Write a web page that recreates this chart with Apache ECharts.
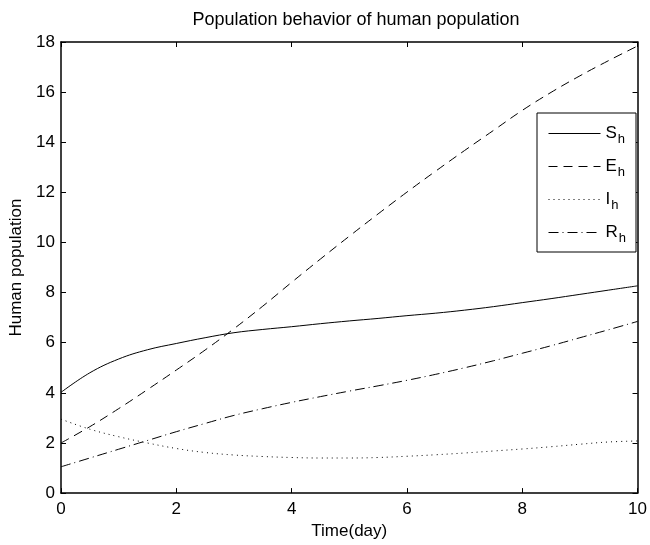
<!DOCTYPE html>
<html>
<head>
<meta charset="utf-8">
<script src="https://cdn.jsdelivr.net/npm/echarts@6/dist/echarts.min.js"></script>
<style>
  html, body { margin: 0; padding: 0; background: #fff; }
  #main { width: 650px; height: 545px; }
</style>
</head>
<body>
<div id="main"></div>
<script>
// time in days
const days = [0, 0.5, 1, 1.5, 2, 2.5, 3, 3.5, 4, 4.5, 5, 5.5, 6, 6.5, 7, 7.5, 8, 8.5, 9, 9.5, 10]
// susceptible, exposed, infected, recovered humans
const Sh = [4.02, 4.8, 5.35, 5.72, 5.97, 6.2, 6.4, 6.53, 6.64, 6.76, 6.87, 6.97, 7.08, 7.18, 7.3, 7.44, 7.6, 7.76, 7.93, 8.1, 8.27]
const Eh = [2.0, 2.65, 3.37, 4.13, 4.91, 5.71, 6.56, 7.46, 8.41, 9.34, 10.25, 11.14, 12.01, 12.85, 13.67, 14.47, 15.27, 15.99, 16.65, 17.26, 17.84]
const Ih = [2.95, 2.55, 2.25, 2.0, 1.78, 1.62, 1.52, 1.46, 1.42, 1.4, 1.4, 1.42, 1.47, 1.53, 1.6, 1.68, 1.76, 1.85, 1.95, 2.04, 2.08]
const Rh = [1.05, 1.4, 1.75, 2.1, 2.45, 2.78, 3.1, 3.37, 3.62, 3.85, 4.07, 4.28, 4.5, 4.74, 5.0, 5.28, 5.58, 5.88, 6.2, 6.52, 6.85]
const names = ['S', 'E', 'I', 'R']
const dashes = ['solid', [9, 6], [1, 4], [10, 4, 1, 4]]

const font = 'Liberation Sans'
const myChart = echarts.init(document.getElementById('main'))

function pairs(ys) {
    return days.map((d, i) => [d, ys[i]])
}

const seriesData = [Sh, Eh, Ih, Rh]
const series = seriesData.map((ys, k) => ({
    name: names[k],
    type: 'line',
    data: pairs(ys),
    smooth: 0.4,
    symbol: 'none',
    lineStyle: { color: '#000', width: 1, type: dashes[k] },
    itemStyle: { color: '#000' }
}))

const xBase = {
    type: 'value', min: 0, max: 10, interval: 2,
    axisLine: { show: true, onZero: false, lineStyle: { color: '#000', width: 1.5 } },
    axisTick: { show: true, inside: true, length: 5, lineStyle: { color: '#000' } },
    splitLine: { show: false }
}
const yBase = {
    type: 'value', min: 0, max: 18, interval: 2,
    axisLine: { show: true, onZero: false, lineStyle: { color: '#000', width: 1.5 } },
    axisTick: { show: true, inside: true, length: 5, lineStyle: { color: '#000' } },
    splitLine: { show: false }
}

myChart.setOption({
    animation: false,
    backgroundColor: '#fff',
    title: {
        text: 'Population behavior of human population',
        left: 351, top: 6, textAlign: 'center',
        textStyle: { fontFamily: font, fontSize: 18, fontWeight: 'normal', color: '#000' }
    },
    grid: { left: 61, right: 9, top: 42, bottom: 47 },
    xAxis: [
        Object.assign({}, xBase, {
            position: 'bottom',
            name: 'Time(day)', nameLocation: 'middle', nameGap: 28,
            nameTextStyle: { fontFamily: font, fontSize: 17, color: '#000' },
            axisLabel: { fontFamily: font, fontSize: 17, color: '#000', margin: 8 }
        }),
        Object.assign({}, xBase, { position: 'top', axisLabel: { show: false } })
    ],
    yAxis: [
        Object.assign({}, yBase, {
            position: 'left',
            name: 'Human population', nameLocation: 'middle', nameGap: 36,
            nameTextStyle: { fontFamily: font, fontSize: 17, color: '#000' },
            axisLabel: { fontFamily: font, fontSize: 17, color: '#000', margin: 6 }
        }),
        Object.assign({}, yBase, { position: 'right', axisLabel: { show: false } })
    ],
    legend: {
        orient: 'vertical',
        left: 537, top: 113,
        padding: [12, 10, 7, 11],
        itemWidth: 52, itemHeight: 14, itemGap: 12,
        borderColor: '#000', borderWidth: 1,
        backgroundColor: '#fff',
        itemStyle: { opacity: 0 },
        lineStyle: { width: 1 },
        data: names,
        formatter: n => '{a|' + n + '}{b|h}',
        textStyle: {
            color: '#000', fontFamily: font,
            rich: {
                a: { fontSize: 17, fontFamily: font, color: '#000' },
                b: { fontSize: 13, fontFamily: font, color: '#000', padding: [12, 0, 0, 1] }
            }
        }
    },
    series: series
})
</script>
</body>
</html>
